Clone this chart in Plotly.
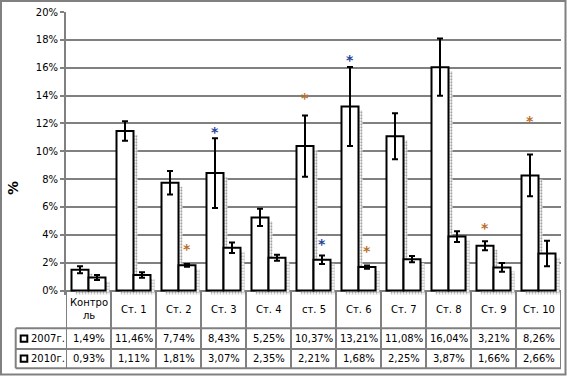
import plotly.graph_objects as go

categories = ["Контроль", "Ст. 1", "Ст. 2", "Ст. 3", "Ст. 4", "ст. 5",
              "Ст. 6", "Ст. 7", "Ст. 8", "Ст. 9", "Ст. 10"]
header_labels = ["Контро<br>ль", "Ст. 1", "Ст. 2", "Ст. 3", "Ст. 4", "ст. 5",
                 "Ст. 6", "Ст. 7", "Ст. 8", "Ст. 9", "Ст. 10"]
series_names = ["2007г.", "2010г."]
values_2007 = [1.49, 11.46, 7.74, 8.43, 5.25, 10.37, 13.21, 11.08, 16.04, 3.21, 8.26]
values_2010 = [0.93, 1.11, 1.81, 3.07, 2.35, 2.21, 1.68, 2.25, 3.87, 1.66, 2.66]
err_2007 = [0.25, 0.70, 0.84, 2.50, 0.62, 2.20, 2.84, 1.65, 2.05, 0.32, 1.50]
err_2010 = [0.18, 0.20, 0.10, 0.38, 0.22, 0.30, 0.12, 0.22, 0.38, 0.31, 0.92]
y_ticks = [0, 2, 4, 6, 8, 10, 12, 14, 16, 18, 20]
y_tick_labels = ["0%", "2%", "4%", "6%", "8%", "10%", "12%", "14%", "16%", "18%", "20%"]

# significance asterisks
star_cat = ["Ст. 2", "Ст. 3", "ст. 5", "ст. 5", "Ст. 6", "Ст. 6", "Ст. 9", "Ст. 10"]
star_series = [1, 0, 0, 1, 0, 1, 0, 0]
star_y = [3.13, 11.55, 14.0, 3.49, 16.73, 2.99, 4.64, 12.34]
star_color = ["#b86f28", "#24429a", "#b86f28", "#24429a", "#24429a", "#b86f28", "#b86f28", "#b86f28"]

# ---- layout geometry (pixels) ----
W, H = 567, 376
ML, MR, MT, MB = 66, 6, 12, 81
PW, PH = W - ML - MR, H - MT - MB
PX_PER_CAT = PW / len(categories)
Y_MAX = 20.0
Y0_PX = 290.5
PX_PER_PCT = (Y0_PX - MT) / Y_MAX
Y_MIN = -(H - MB - Y0_PX) / PX_PER_PCT

def px_x(px):
    return (px - ML) / PW

def px_y(py):
    return (H - MB - py) / PH

BAR_W = 17 / PX_PER_CAT
SH_DX = 4 / PX_PER_CAT
SH_DY = 4 / PX_PER_PCT
GRID = "#808080"
FONT = "DejaVu Sans"

fig = go.Figure()
series_vals = [values_2007, values_2010]
series_err = [err_2007, err_2010]
offsets = [-BAR_W, 0.0]

# shadows
for vals, off in zip(series_vals, offsets):
    fig.add_trace(go.Bar(
        x=categories, y=vals, base=-SH_DY, offset=off + SH_DX, width=BAR_W,
        marker=dict(color="white", line=dict(width=0),
                    pattern=dict(shape=".", fgcolor="#4a4a4a", bgcolor="white",
                                 size=3, solidity=0.45)),
        hoverinfo="skip", showlegend=False))

# main bars
for name, vals, errs, off in zip(series_names, series_vals, series_err, offsets):
    fig.add_trace(go.Bar(
        x=categories, y=vals, offset=off, width=BAR_W, name=name,
        marker=dict(color="white", line=dict(color="black", width=2)),
        error_y=dict(type="data", array=errs, color="black", thickness=2, width=3),
        showlegend=False))

annotations = []
shapes = []

# asterisks
for c, s, yv, col in zip(star_cat, star_series, star_y, star_color):
    annotations.append(dict(
        x=c, xref="x", y=yv, yref="y", text="<b>*</b>", showarrow=False,
        xshift=(-8.5 if s == 0 else 8.5), yshift=-2,
        font=dict(family=FONT, size=14, color=col)))

# data table
ROW_TOP, ROW_MID, ROW_BOT = 328.3, 349.0, 368.3
LEG_LEFT = 15.7
n = len(categories)
for py in (ROW_TOP, ROW_MID, ROW_BOT):
    shapes.append(dict(type="line", xref="paper", yref="paper",
                       x0=px_x(LEG_LEFT), x1=1, y0=px_y(py), y1=px_y(py),
                       line=dict(color=GRID, width=2)))
for k in range(n + 1):
    shapes.append(dict(type="line", xref="x", yref="paper",
                       x0=k - 0.5, x1=k - 0.5, y0=px_y(Y0_PX), y1=px_y(ROW_BOT),
                       line=dict(color=GRID, width=2)))
shapes.append(dict(type="line", xref="paper", yref="paper",
                   x0=px_x(LEG_LEFT), x1=px_x(LEG_LEFT), y0=px_y(ROW_TOP), y1=px_y(ROW_BOT),
                   line=dict(color=GRID, width=2)))

HEAD_C = (Y0_PX + ROW_TOP) / 2
ROW_C = [(ROW_TOP + ROW_MID) / 2, (ROW_MID + ROW_BOT) / 2]
for c, lab in zip(categories, header_labels):
    annotations.append(dict(x=c, xref="x", y=px_y(HEAD_C), yref="paper", text=lab,
                            showarrow=False, xanchor="center", yanchor="middle",
                            font=dict(family=FONT, size=10, color="black")))
for r, vals in enumerate(series_vals):
    for c, v in zip(categories, vals):
        annotations.append(dict(x=c, xref="x", y=px_y(ROW_C[r]), yref="paper",
                                text=f"{v:.2f}".replace(".", ",") + "%",
                                showarrow=False, xanchor="center", yanchor="middle",
                                font=dict(family=FONT, size=10, color="black")))
    shapes.append(dict(type="rect", xref="paper", yref="paper",
                       x0=px_x(20.7), x1=px_x(27.3),
                       y0=px_y(ROW_C[r] - 3.2), y1=px_y(ROW_C[r] + 3.2),
                       line=dict(color="black", width=2), fillcolor="white"))
    annotations.append(dict(x=px_x(28.5), xref="paper", y=px_y(ROW_C[r]), yref="paper",
                            text=series_names[r], showarrow=False, xanchor="left",
                            yanchor="middle",
                            font=dict(family=FONT, size=10, color="black")))

# y-axis title
annotations.append(dict(x=px_x(13), xref="paper", y=px_y(188), yref="paper",
                        text="<b>%</b>", textangle=-90, showarrow=False,
                        xanchor="center", yanchor="middle",
                        font=dict(family=FONT, size=14, color="black")))

# chart border
shapes.append(dict(type="rect", xref="paper", yref="paper",
                   x0=px_x(1), x1=px_x(565.5), y0=px_y(1), y1=px_y(374.5),
                   line=dict(color=GRID, width=2)))

fig.update_layout(
    width=W, height=H,
    margin=dict(l=ML, r=MR, t=MT, b=MB),
    paper_bgcolor="white", plot_bgcolor="white",
    barmode="overlay",
    showlegend=False,
    font=dict(family=FONT, size=10, color="black"),
    xaxis=dict(range=[-0.5, n - 0.5], showticklabels=False, showgrid=False,
               zeroline=False, showline=False, ticks=""),
    yaxis=dict(range=[Y_MIN, Y_MAX], tickmode="array", tickvals=y_ticks,
               ticktext=y_tick_labels,
               showgrid=True, gridcolor=GRID, gridwidth=2, zeroline=False,
               showline=True, linecolor=GRID, linewidth=2,
               ticks="outside", ticklen=4, tickcolor=GRID, tickwidth=2,
               tickfont=dict(family=FONT, size=10, color="black"),
               automargin=False),
    annotations=annotations,
    shapes=shapes,
)

fig.write_html("out.html", config={"displayModeBar": False},
               post_script="document.body.style.margin='0';document.body.style.overflow='hidden';")
